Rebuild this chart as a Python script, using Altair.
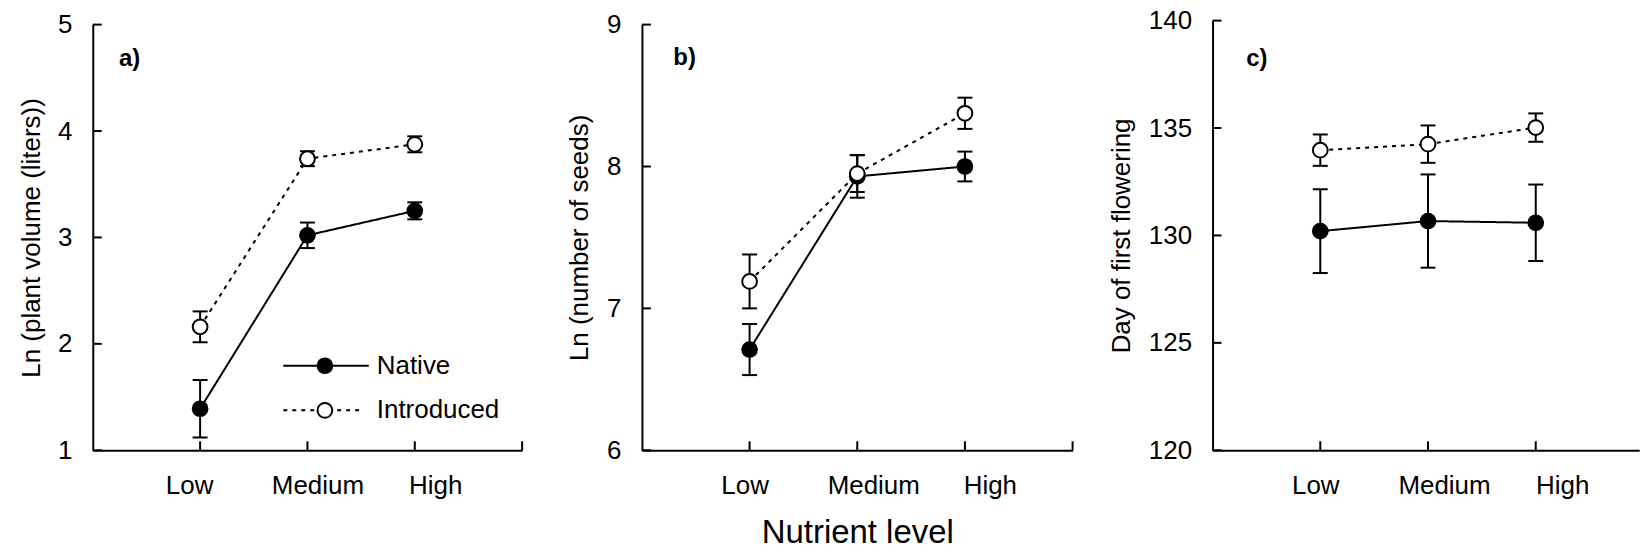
import json
import altair as alt
import pandas as pd

# ---------------- data ----------------
levels = ["Low", "Medium", "High"]
level_pos = [1, 2, 3]
series = ["Native", "Introduced"]

# a) Ln (plant volume (liters))
a_native_mean = [1.39, 3.02, 3.25]
a_native_se = [0.27, 0.12, 0.08]
a_intro_mean = [2.16, 3.74, 3.875]
a_intro_se = [0.145, 0.07, 0.075]

# b) Ln (number of seeds)
b_native_mean = [6.71, 7.93, 8.00]
b_native_se = [0.18, 0.15, 0.105]
b_intro_mean = [7.19, 7.95, 8.375]
b_intro_se = [0.19, 0.13, 0.11]

# c) Day of first flowering
c_native_mean = [130.2, 130.67, 130.59]
c_native_se = [1.95, 2.17, 1.78]
c_intro_mean = [133.97, 134.25, 135.02]
c_intro_se = [0.73, 0.87, 0.66]

a_yticks = [1, 2, 3, 4, 5]
b_yticks = [6, 7, 8, 9]
c_yticks = [120, 125, 130, 135, 140]

FONT = "Liberation Sans"
LW = 2
FS = 26
H = 426.7
TOP = 23.3


def make_df(nm, ns, im, is_):
    rows = []
    for s, means, ses in ((series[0], nm, ns), (series[1], im, is_)):
        for lv, p, m, e in zip(levels, level_pos, means, ses):
            rows.append({"level": lv, "pos": p, "series": s, "mean": m,
                         "lo": m - e, "hi": m + e})
    return pd.DataFrame(rows)


label_expr = json.dumps([""] + levels) + "[datum.value]"


def panel(df, ydom, yticks, ytitle, tag, W, ytop, xmax, xtickvals,
          title_dx, tag_xy, label_offsets, xtitle=None, legend=False):
    xscale = alt.Scale(domain=[0, xmax], nice=False, zero=False)
    yscale = alt.Scale(domain=ydom, nice=False, zero=False, range=[H, ytop])
    off_cond = {
        "condition": [
            {"test": "datum.value == 1", "value": label_offsets[0]},
            {"test": "datum.value == 3", "value": label_offsets[2]},
        ],
        "value": label_offsets[1],
    }
    xaxis_kw = dict(values=level_pos, labelExpr=label_expr, labelPadding=22,
                    labelOffset=off_cond)
    if xtitle:
        xaxis_kw.update(title=xtitle, titleFontSize=33, titleX=W / 2,
                        titleY=92, titleBaseline="alphabetic",
                        titleAlign="center")
    else:
        xaxis_kw.update(title=None)
    xaxis = alt.Axis(**xaxis_kw)
    yaxis = alt.Axis(values=yticks, title=ytitle, titleX=-title_dx,
                     titleY=(H + ytop) / 2, titleAngle=270,
                     titleBaseline="middle", titleAlign="center",
                     labelPadding=21)

    def X(f):
        return alt.X(f, type="quantitative", scale=xscale, axis=xaxis)

    def Y(f):
        return alt.Y(f, type="quantitative", scale=yscale, axis=yaxis)

    base = alt.Chart(df)
    lines = base.mark_line(color="black", strokeWidth=LW).encode(
        x=X("pos"), y=Y("mean"),
        strokeDash=alt.StrokeDash("series:N", legend=None,
                                  scale=alt.Scale(domain=series,
                                                  range=[[1, 0], [4, 5]])),
        detail="series:N", order="pos:Q")
    err = base.mark_rule(color="black", strokeWidth=LW).encode(
        x=X("pos"), y=Y("lo"), y2="hi:Q")
    cap_lo = base.mark_tick(orient="horizontal", size=15, thickness=LW,
                            color="black", opacity=1).encode(x=X("pos"), y=Y("lo"))
    cap_hi = base.mark_tick(orient="horizontal", size=15, thickness=LW,
                            color="black", opacity=1).encode(x=X("pos"), y=Y("hi"))
    pts_nat = base.transform_filter(alt.datum.series == series[0]).mark_circle(
        size=280, color="black", opacity=1).encode(x=X("pos"), y=Y("mean"))
    pts_int = base.transform_filter(alt.datum.series == series[1]).mark_circle(
        size=220, fill="white", stroke="black", strokeWidth=LW,
        opacity=1).encode(x=X("pos"), y=Y("mean"))

    ytk = alt.Chart(pd.DataFrame({"v": yticks})).mark_rule(
        color="black", strokeWidth=2).encode(
        y=Y("v"), x=alt.value(0), x2=alt.value(9))
    xtk = alt.Chart(pd.DataFrame({"t": xtickvals})).mark_rule(
        color="black", strokeWidth=2).encode(
        x=X("t"), y=alt.value(H), y2=alt.value(H - 9))
    tag_t = alt.Chart(pd.DataFrame({"tag": [tag]})).mark_text(
        align="left", baseline="middle", fontSize=24, fontWeight="bold",
        font=FONT, color="black").encode(
        x=alt.value(tag_xy[0]), y=alt.value(tag_xy[1]), text="tag:N")
    # white hairline at the very top of the page: fixes the panels' vertical offset
    top_edge = alt.Chart(pd.DataFrame({"s": [0]})).mark_rule(
        color="white", strokeWidth=1).encode(
        x=alt.value(0), y=alt.value(-TOP + 0.5), y2=alt.value(-TOP + 1.5))

    layers = [lines, err, cap_lo, cap_hi, pts_nat, pts_int, ytk, xtk, tag_t,
              top_edge]

    if legend:
        rows_y = [342, 386.7]
        for s, ry in zip(series, rows_y):
            d = alt.Chart(pd.DataFrame({"series": [s]}))
            if s == series[0]:
                ln = d.mark_rule(color="black", strokeWidth=LW).encode(
                    x=alt.value(191), x2=alt.value(276.7), y=alt.value(ry))
                mk = d.mark_circle(size=280, color="black", opacity=1).encode(
                    x=alt.value(232.7), y=alt.value(ry))
            else:
                ln = d.mark_rule(color="black", strokeWidth=LW,
                                 strokeDash=[4, 5]).encode(
                    x=alt.value(191), x2=alt.value(272), y=alt.value(ry))
                mk = d.mark_circle(size=220, fill="white", stroke="black",
                                   strokeWidth=LW, opacity=1).encode(
                    x=alt.value(232.7), y=alt.value(ry))
            tx = d.mark_text(align="left", baseline="middle", fontSize=FS,
                             font=FONT, color="black").encode(
                x=alt.value(284.7), y=alt.value(ry), text="series:N")
            layers += [ln, mk, tx]

    return alt.layer(*layers).properties(width=W, height=H)


pa = panel(make_df(a_native_mean, a_native_se, a_intro_mean, a_intro_se),
           [1, 5], a_yticks, "Ln (plant volume (liters))", "a)",
           430.4, 0, 4, [1, 2, 3, 4], 61.3, (26.3, 34.7),
           (-11, 10, 20.5), legend=True)
pb = panel(make_df(b_native_mean, b_native_se, b_intro_mean, b_intro_se),
           [6, 9], b_yticks, "Ln (number of seeds)", "b)",
           431.7, 0, 4, [1, 2, 3, 4], 63, (31.4, 33.7),
           (-5, 16, 25), xtitle="Nutrient level")
pc = panel(make_df(c_native_mean, c_native_se, c_intro_mean, c_intro_se),
           [120, 140], c_yticks, "Day of first flowering", "c)",
           427.7, -4, 427.7 / 108.0, [1, 2, 3], 91.7, (33.7, 34.7),
           (-5, 16, 26.5))

chart = alt.hconcat(
    alt.hconcat(pa, pb, spacing=41.5),
    pc, spacing=33.5,
).properties(
    padding={"left": 18, "top": 0, "right": 0, "bottom": 0}
).configure(
    font=FONT
).configure_view(
    stroke=None
).configure_axis(
    domainColor="black", domainWidth=2, grid=False, ticks=False, tickSize=0,
    labelFont=FONT, labelFontSize=FS, labelColor="black",
    titleFont=FONT, titleFontSize=FS, titleFontWeight="normal",
    titleColor="black",
)

chart.save("out.html", embed_options={"renderer": "svg", "actions": False})
